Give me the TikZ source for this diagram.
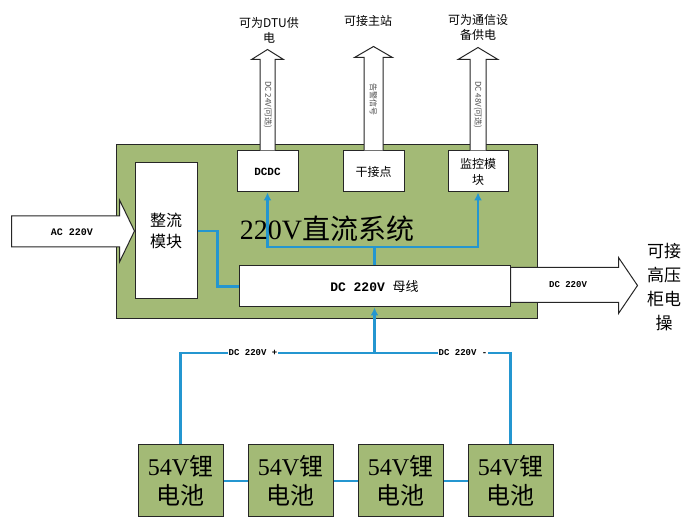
\documentclass[tikz,border=0pt]{standalone}
\usepackage{fontspec}
\setmainfont{Liberation Serif}
\setmonofont{Liberation Mono}
\newfontfamily\cjk{Noto Sans CJK SC}
\usetikzlibrary{arrows.meta,calc}
\definecolor{gr}{RGB}{163,186,118}
\definecolor{bl}{RGB}{36,150,208}
\tikzset{
  wbox/.style={draw=black!85,fill=white,line width=1pt,inner sep=0pt,align=center},
  gbox/.style={draw=black!85,fill=gr,line width=1pt,inner sep=0pt,align=center},
  bline/.style={draw=bl,line width=2.4pt},
  barrow/.style={bline,-{Latex[length=8pt,width=8pt]}},
  hollow/.style={draw=black!85,fill=white,line width=1pt,line join=miter},
  small/.style={font=\fontsize{9}{10}\selectfont\ttfamily\bfseries},
  cjklab/.style={font=\fontsize{12}{15}\selectfont\cjk,align=center},
  rot/.style={rotate=-90,font=\fontsize{8}{9}\selectfont\cjk,text=black!70}
}
\begin{document}
\begin{tikzpicture}[x=1pt,y=-1pt]
\useasboundingbox (0,0) rectangle (689,518);
% main system
\node[gbox,minimum width=421pt,minimum height=174pt,anchor=north west] (sys) at (116,144) {};
% inner boxes
\node[wbox,minimum width=62pt,minimum height=136pt,font=\cjk\fontsize{16}{21}\selectfont] (zl) at (166,231) {整流\\模块};
\node[wbox,minimum width=61pt,minimum height=41pt,font=\fontsize{11}{12}\selectfont\ttfamily\bfseries] (dcdc) at (267.5,171.5) {DCDC};
\node[wbox,minimum width=61pt,minimum height=41pt,font=\cjk\fontsize{12}{14}\selectfont] (gjd) at (373.5,171.5) {干接点};
\node[wbox,minimum width=60pt,minimum height=41pt,font=\cjk\fontsize{12}{16}\selectfont] (jk) at (478,171.5) {监控模\\块};
\node[wbox,minimum width=271pt,minimum height=41pt,font=\fontsize{13}{14}\selectfont\ttfamily\bfseries] (bus) at (374.5,286.5) {DC 220V {\cjk\mdseries 母线}};
% blue connectors inside
\coordinate (j1) at (374.5,247);
\draw[bline] (zl.east) -- ++(20,0) |- (bus.west);
\draw[bline] (bus.north) -- (j1);
\draw[barrow] (j1) -| (dcdc.south);
\draw[barrow] (j1) -| (jk.south);
\node[font=\fontsize{28}{30}\selectfont] (title) at (327,229) {220V{\cjk 直流系统}};
% AC input arrow
\draw[hollow] ($(zl.west)+(-123,-15)$) -- ($(zl.west)+(-15,-15)$) -- ($(zl.west)+(-15,-31)$) -- (zl.west) -- ($(zl.west)+(-15,31)$) -- ($(zl.west)+(-15,16)$) -- ($(zl.west)+(-123,16)$) -- cycle;
\node[font=\fontsize{10}{11}\selectfont\ttfamily\bfseries] (ac) at (72,232) {AC 220V};
% DC output arrow
\draw[hollow] ($(bus.east)+(0,-19)$) -- ($(bus.east)+(108,-19)$) -- ($(bus.east)+(108,-29)$) -- ($(bus.east)+(127,-1)$) -- ($(bus.east)+(108,27)$) -- ($(bus.east)+(108,16)$) -- ($(bus.east)+(0,16)$) -- cycle;
\node[small] (dcout) at (568,285) {DC 220V};
\node[cjklab,font=\fontsize{17}{24}\selectfont\cjk] (hv) at (664,287) {可接\\高压\\柜电\\操};
% upward arrows
\draw[hollow] ($(dcdc.north)+(-7.5,0)$) -- ($(dcdc.north)+(-7.5,-91)$) -- ($(dcdc.north)+(-16,-91)$) -- ($(dcdc.north)+(0,-101)$) -- ($(dcdc.north)+(16,-91)$) -- ($(dcdc.north)+(7.5,-91)$) -- ($(dcdc.north)+(7.5,0)$);
\draw[hollow] ($(gjd.north)+(-9.5,0)$) -- ($(gjd.north)+(-9.5,-93)$) -- ($(gjd.north)+(-19,-93)$) -- ($(gjd.north)+(0,-104)$) -- ($(gjd.north)+(19,-93)$) -- ($(gjd.north)+(9.5,-93)$) -- ($(gjd.north)+(9.5,0)$);
\draw[hollow] ($(jk.north)+(-8,0)$) -- ($(jk.north)+(-8,-91)$) -- ($(jk.north)+(-20,-91)$) -- ($(jk.north)+(0,-103)$) -- ($(jk.north)+(20,-91)$) -- ($(jk.north)+(8,-91)$) -- ($(jk.north)+(8,0)$);
\node[rot] (t1) at (268,105) {DC 24V(可选)};
\node[rot] (t2) at (373.5,100) {告警信号};
\node[rot] (t3) at (478,105) {DC 48V(可选)};
\node[cjklab] (l1) at (269,30) {可为DTU供\\电};
\node[cjklab] (l2) at (368,21) {可接主站};
\node[cjklab] (l3) at (478,27) {可为通信设\\备供电};
% batteries
\foreach \i/\x in {1/180.5,2/290.5,3/400.5,4/510.5}{
  \node[gbox,minimum width=85pt,minimum height=72pt,font=\fontsize{24}{29}\selectfont] (b\i) at (\x,481) {54V{\cjk 锂}\\{\cjk 电池}};
}
\draw[bline] (b1) -- (b2);
\draw[bline] (b2) -- (b3);
\draw[bline] (b3) -- (b4);
\coordinate (j2) at (374.5,353);
\draw[bline] (b1.north) -- (b1.north |- j2) -- (b4.north |- j2) -- (b4.north);
\draw[barrow] (j2) -- (bus.south);
\node[small,fill=white,inner sep=1pt] (pp) at (253,353) {DC 220V +};
\node[small,fill=white,inner sep=1pt] (nn) at (463,353) {DC 220V -};
\end{tikzpicture}
\end{document}
